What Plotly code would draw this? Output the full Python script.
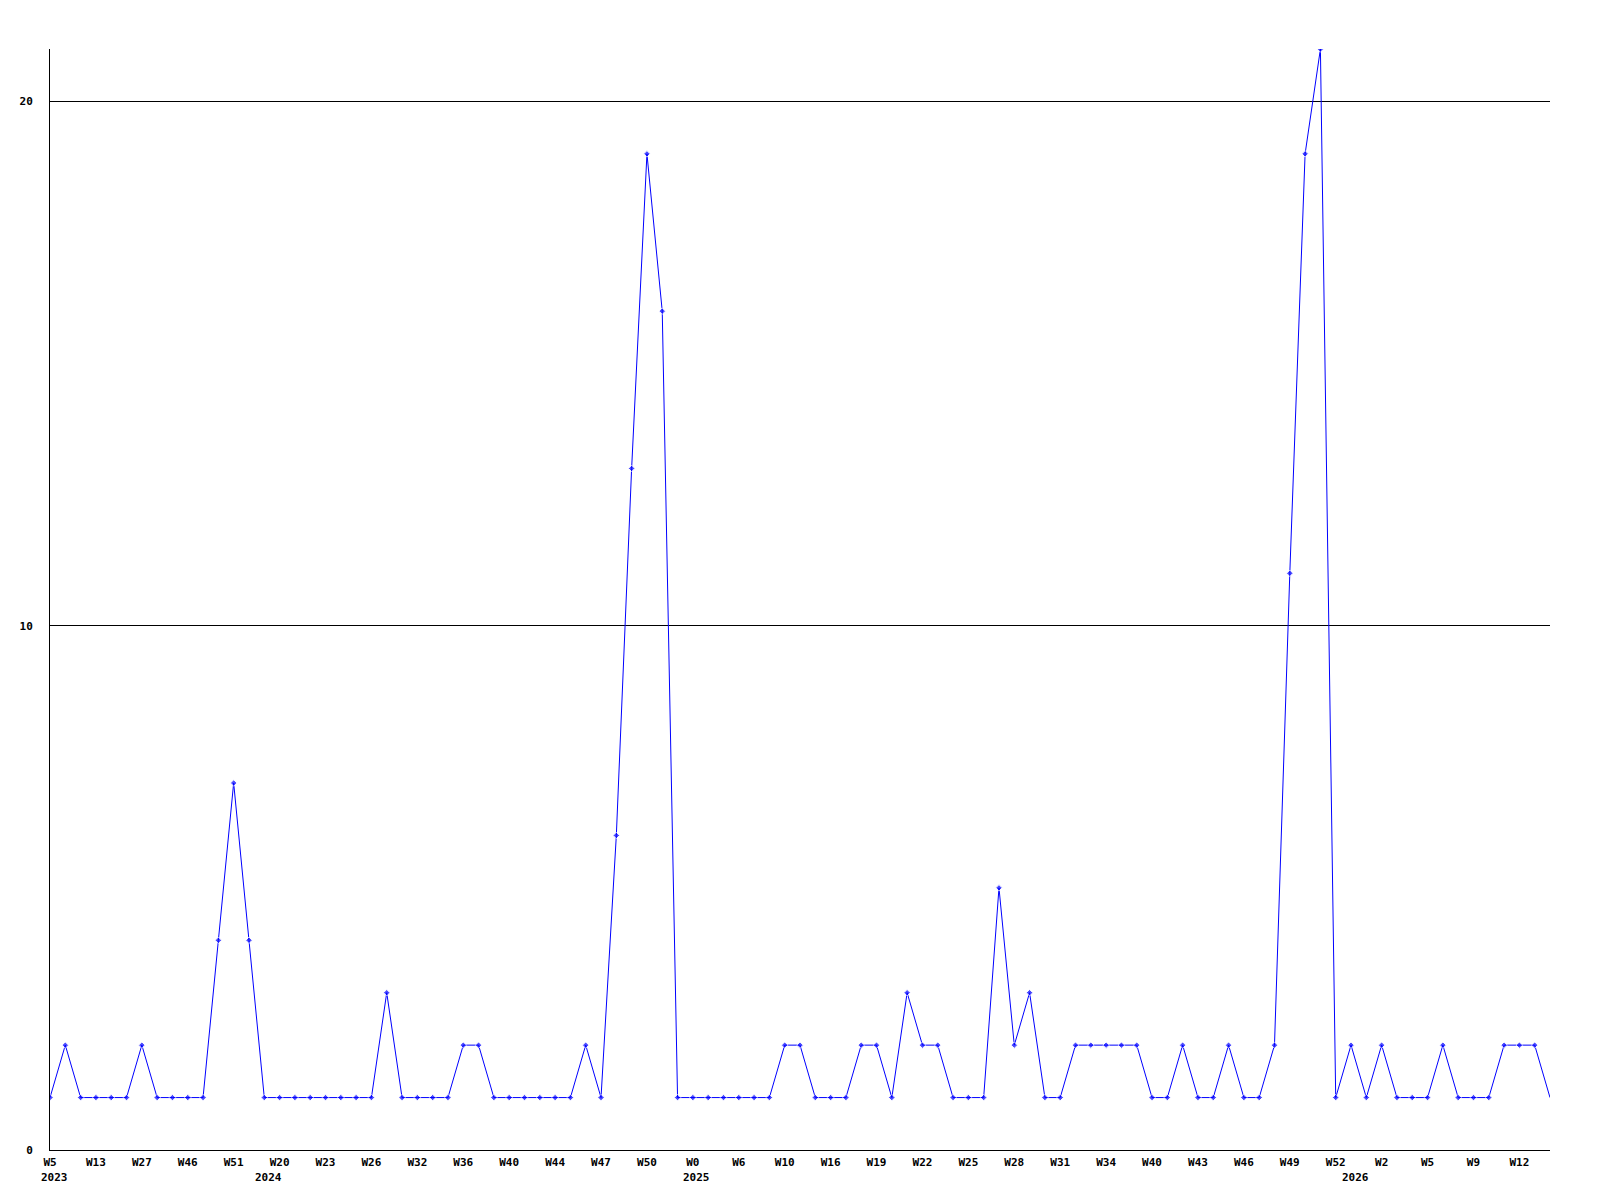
import plotly.graph_objects as go

values = [1, 2, 1, 1, 1, 1, 2, 1, 1, 1,
          1, 4, 7, 4, 1, 1, 1, 1, 1, 1,
          1, 1, 3, 1, 1, 1, 1, 2, 2, 1,
          1, 1, 1, 1, 1, 2, 1, 6, 13, 19,
          16, 1, 1, 1, 1, 1, 1, 1, 2, 2,
          1, 1, 1, 2, 2, 1, 3, 2, 2, 1,
          1, 1, 5, 2, 3, 1, 1, 2, 2, 2,
          2, 2, 1, 1, 2, 1, 1, 2, 1, 1,
          2, 11, 19, 21, 1, 2, 1, 2, 1, 1,
          1, 2, 1, 1, 1, 2, 2, 2, 1]

tick_labels = ["W5", "W13", "W27", "W46", "W51", "W20", "W23", "W26", "W32", "W36",
               "W40", "W44", "W47", "W50", "W0", "W6", "W10", "W16", "W19", "W22",
               "W25", "W28", "W31", "W34", "W40", "W43", "W46", "W49", "W52", "W2",
               "W5", "W9", "W12"]

year_labels = ["2023", "2024", "2025", "2026"]
year_start_index = [0, 14, 42, 85]

x = list(range(len(values)))
tick_vals = x[::3]

font_family = "DejaVu Sans Mono"

fig = go.Figure()
fig.add_trace(go.Scatter(
    x=x, y=values, mode="lines+markers",
    line=dict(color="#0000FF", width=1),
    marker=dict(symbol="diamond", size=[5] * (len(values) - 1) + [0], color="#0000FF"),
    showlegend=False, hoverinfo="x+y",
))

for yl, xi in zip(year_labels, year_start_index):
    fig.add_annotation(x=xi, y=0, xref="x", yref="paper", text=yl, showarrow=False,
                       yshift=-19, xshift=4,
                       font=dict(family=font_family, size=11, color="black", weight="bold"),
                       xanchor="center", yanchor="top")

fig.update_layout(
    width=1600, height=1200,
    margin=dict(l=42, r=58, t=41, b=58),
    paper_bgcolor="white", plot_bgcolor="white",
    font=dict(family=font_family, size=11, color="black"),
)
fig.update_xaxes(
    range=[0, len(values) - 1], tickvals=tick_vals, ticktext=tick_labels,
    showgrid=False, zeroline=False, showline=True, linecolor="black", linewidth=1,
    ticks="", ticklabelstandoff=2,
    tickfont=dict(family=font_family, size=11, color="black", weight="bold"),
)
fig.update_yaxes(
    range=[0, 21], tickvals=[0, 10, 20], ticktext=["0", "10", "20"],
    showgrid=True, gridcolor="black", gridwidth=1, zeroline=False,
    showline=True, linecolor="black", linewidth=1, ticks="", ticklabelstandoff=14,
    tickfont=dict(family=font_family, size=11, color="black", weight="bold"),
)

fig.write_html("out.html")
